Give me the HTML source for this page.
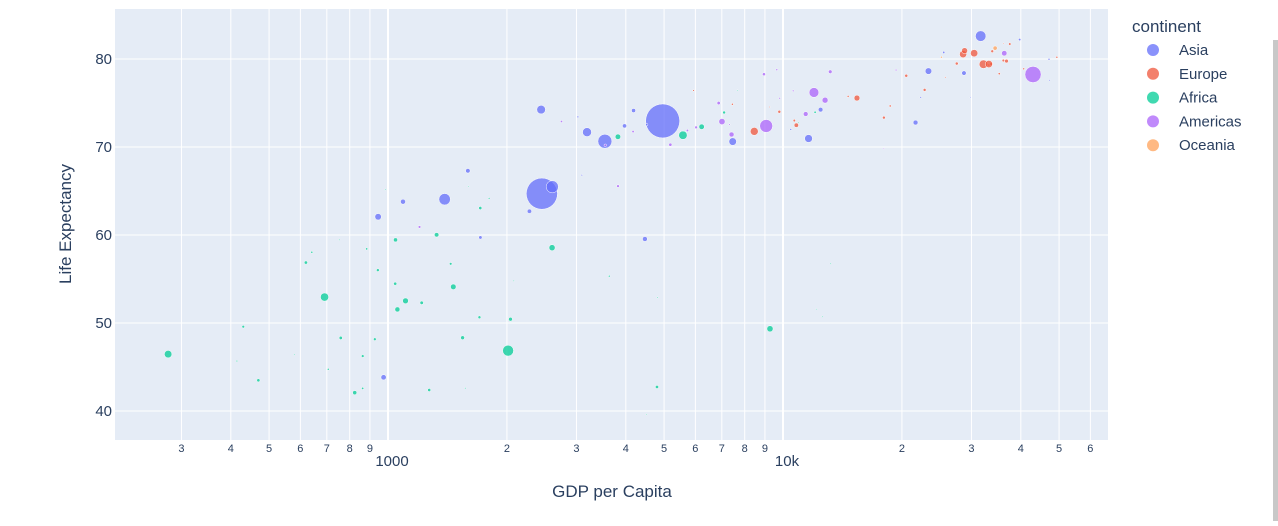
<!DOCTYPE html>
<html><head><meta charset="utf-8"><style>
body{margin:0;background:#fff;width:1278px;height:521px;overflow:hidden;font-family:"Liberation Sans",sans-serif}
svg text{font-family:"Liberation Sans",sans-serif;fill:#2a3f5f}
</style></head><body>
<svg id="chart" width="1278" height="521" xmlns="http://www.w3.org/2000/svg">
<rect x="115" y="9" width="993" height="431" fill="#e5ecf6"/>
<g id="grid"></g><g id="marks"></g><g id="axes"></g>
<text x="612" y="497" font-size="17" text-anchor="middle">GDP per Capita</text>
<text transform="translate(71,224) rotate(-90)" font-size="17" text-anchor="middle">Life Expectancy</text>
<text x="1132" y="32" font-size="17">continent</text>
<g id="legend"></g>
<rect x="1273" y="40" width="5" height="481" fill="#c8c8c8"/>
</svg>
<script>
const continents=["Asia","Europe","Africa","Americas","Oceania"];
const colors=["#636efa","#EF553B","#00cc96","#ab63fa","#FFA15A"];
const gdp=[
[974.58,29796,1391.25,1713.78,4959.11,39724.98,2452.21,3540.65,11605.71,4471.06,25523.28,31656.07,4519.46,1593.07,23348.14,47306.99,10461.06,12451.66,3095.77,944,1091.36,22316.19,2605.95,3190.48,21654.83,47143.18,3970.10,4184.55,28718.28,7458.40,2441.58,3025.35,2280.77],
[5937.03,36126.49,33692.61,7446.30,10680.79,14619.22,22833.31,35278.42,33207.08,30470.02,32170.37,27538.41,18008.94,36180.79,40676,28569.72,9253.90,36797.93,49357.19,15389.92,20509.65,10808.48,9786.53,18678.31,25768.26,28821.06,33859.75,37506.42,8458.28,33203.26],
[6223.37,4797.23,1441.28,12569.85,1217.03,430.07,2042.10,706.02,1704.06,986.15,277.55,3632.56,1544.75,2082.48,5581.18,12154.09,641.37,690.81,13206.48,752.75,1327.61,942.65,579.23,1463.25,1569.33,414.51,12057.50,1044.77,759.35,1042.58,1803.15,10956.99,3820.18,823.69,4811.06,619.68,2013.98,7670.12,863.09,1598.44,1712.47,862.54,926.14,9269.66,2602.39,4513.48,1107.48,882.97,7092.92,1056.38,1271.21,469.71],
[12779.38,3822.14,9065.80,36319.24,13171.64,7006.58,9645.06,8948.10,6025.37,6873.26,5728.35,5186.05,1201.64,3548.33,7320.88,11977.57,2749.32,9809.19,4172.84,7408.91,19328.71,18008.51,42951.65,10611.46,11415.81],
[34435.37,25185.01]];
const life=[
[43.828,75.635,64.062,59.723,72.961,82.208,64.698,70.65,70.964,59.545,80.745,82.603,72.535,67.297,78.623,77.588,71.993,74.241,66.803,62.069,63.785,75.64,65.483,71.688,72.777,79.972,72.396,74.143,78.4,70.616,74.249,73.422,62.698],
[76.423,79.829,79.441,74.852,73.005,75.748,76.486,78.332,79.313,80.657,79.406,79.483,73.338,81.757,78.885,80.546,74.543,79.762,80.196,75.563,78.098,72.476,74.002,74.663,77.926,80.941,80.884,81.701,71.777,79.425],
[72.301,42.731,56.728,50.728,52.295,49.58,50.43,44.741,50.651,65.152,46.462,55.322,48.328,54.791,71.338,51.579,58.04,52.947,56.735,59.448,60.022,56.007,46.388,54.11,42.592,45.678,73.952,59.443,48.303,54.467,64.164,72.801,71.164,42.082,52.906,56.867,46.859,76.442,46.242,65.528,63.062,42.568,48.159,49.339,58.556,39.613,52.517,58.42,73.923,51.542,42.384,43.487],
[75.32,65.554,72.39,80.653,78.553,72.889,78.782,78.273,72.235,74.994,71.878,70.259,60.916,70.198,72.567,76.195,72.899,75.537,71.752,71.421,78.746,69.819,78.242,76.384,73.747],
[81.235,80.204]];
const pop=[
[31.89,0.709,150.45,14.13,1318.68,6.98,1110.4,223.55,69.45,27.5,6.43,127.47,6.05,23.3,49.04,2.51,3.92,24.82,2.87,47.76,28.9,3.2,169.27,91.08,27.6,4.55,20.38,19.31,23.17,65.07,85.26,4.02,22.21],
[3.6,8.2,10.39,4.55,7.32,4.49,10.23,5.47,5.24,61.08,82.4,10.71,9.96,0.3,4.11,58.15,0.68,16.57,4.63,38.52,10.64,22.28,10.15,5.45,2.01,40.45,9.03,7.55,71.16,60.78],
[33.33,12.42,8.08,1.64,14.33,8.39,17.7,4.37,10.24,0.71,64.61,3.8,18.01,0.5,80.26,0.55,4.91,76.51,1.45,1.69,22.87,9.95,1.47,35.61,2.01,3.19,6.04,19.17,13.33,12.03,3.27,1.25,33.76,19.95,2.06,12.89,135.03,0.8,8.86,0.2,12.27,6.14,9.12,44.0,42.29,1.13,38.14,5.7,10.28,29.17,11.75,12.31],
[40.3,9.12,190.01,33.39,16.28,44.23,4.13,11.42,9.32,13.76,6.94,12.57,8.5,7.48,2.78,108.7,5.68,3.24,6.67,28.67,3.94,1.06,301.14,3.45,26.08],
[20.43,4.12]];
const xMinorTicks=[300,400,500,600,700,800,900,2000,3000,4000,5000,6000,7000,8000,9000,20000,30000,40000,50000,60000];
const xMinorLabels=["3","4","5","6","7","8","9","2","3","4","5","6","7","8","9","2","3","4","5","6"];
const xMajorTicks=[1000,10000];
const xMajorLabels=["1000","10k"];
const yTicks=[40,50,60,70,80];
const NS="http://www.w3.org/2000/svg";
const X=v=>388+395*Math.log10(v/1000);
const Y=v=>59+(80-v)*8.8;
const R=p=>17*Math.sqrt(p/1318.68);
function mk(tag,attrs,parent){const e=document.createElementNS(NS,tag);for(const k in attrs)e.setAttribute(k,attrs[k]);parent.appendChild(e);return e;}
const grid=document.getElementById('grid'),axes=document.getElementById('axes'),marks=document.getElementById('marks'),legend=document.getElementById('legend');
xMinorTicks.forEach((t,i)=>{
 const l=mk('line',{x1:X(t),x2:X(t),y1:9,y2:440,stroke:'#fff','stroke-width':1},grid);
 
 
 const tx=mk('text',{x:X(t),y:452,'font-size':11,'text-anchor':'middle'},axes);tx.textContent=xMinorLabels[i];
 
 
});
xMajorTicks.forEach((t,i)=>{
 const l=mk('line',{x1:X(t),x2:X(t),y1:9,y2:440,stroke:'#fff','stroke-width':2},grid);
 
 
 const tx=mk('text',{x:X(t)+4,y:466,'font-size':15,'text-anchor':'middle'},axes);tx.textContent=xMajorLabels[i];
 
 
});
yTicks.forEach(t=>{
 const l=mk('line',{x1:115,x2:1108,y1:Y(t),y2:Y(t),stroke:'#fff','stroke-width':1},grid);
 
 
 const tx=mk('text',{x:112,y:Y(t)+5,'font-size':15,'text-anchor':'end'},axes);tx.textContent=t;
 
 
});
continents.forEach((c,ci)=>{
 gdp[ci].forEach((g,i)=>{
  const e=mk('circle',{cx:X(g),cy:Y(life[ci][i]),r:Math.max(R(pop[ci][i]),0.6),fill:colors[ci],'fill-opacity':0.75,stroke:'#fff','stroke-width':0.5},marks);
  
  
 });
 const y=50+ci*23.8;
 const lm=mk('circle',{cx:1153,cy:y,r:6,fill:colors[ci],'fill-opacity':0.75},legend);
 
 
 const lt=mk('text',{x:1179,y:y+5,'font-size':15},legend);lt.textContent=c;
 
 
});
</script>
</body></html>
